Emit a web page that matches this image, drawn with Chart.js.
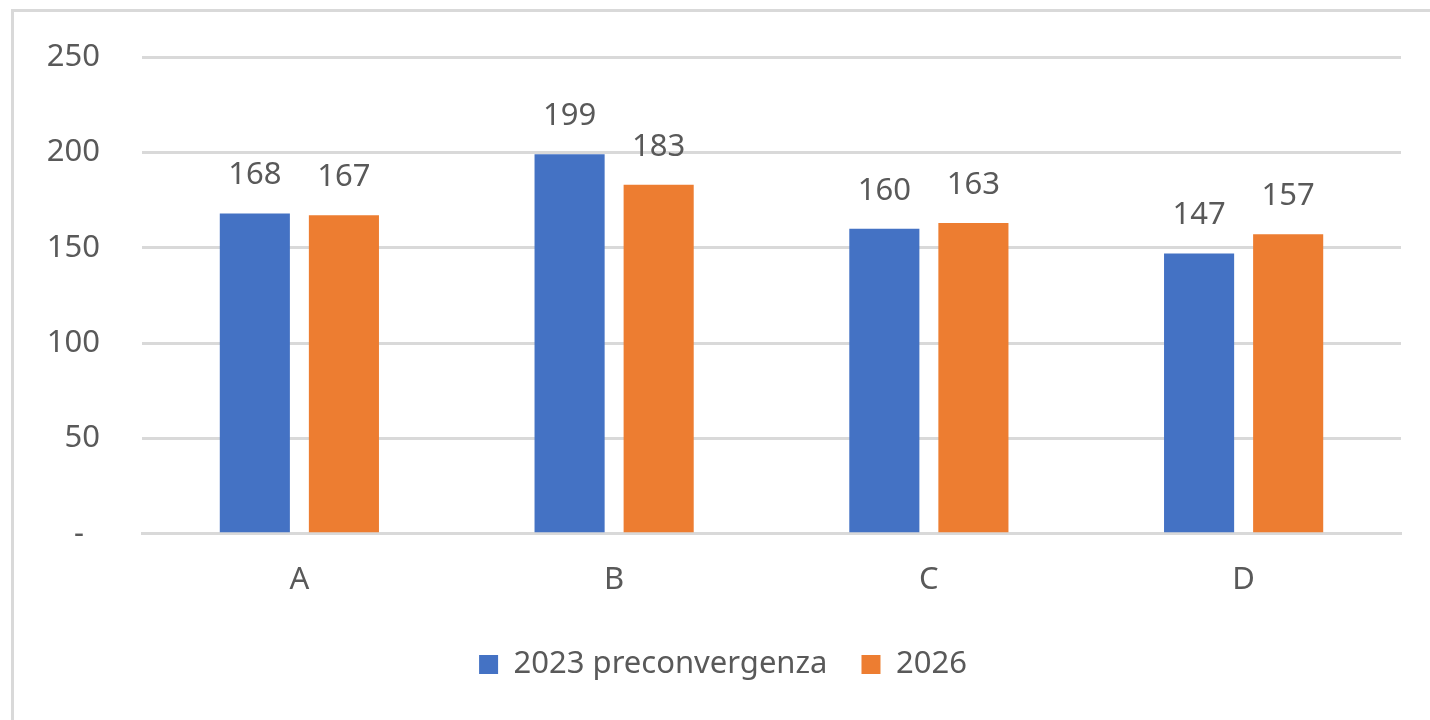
<!DOCTYPE html>
<html>
<head>
<meta charset="utf-8">
<script src="https://cdn.jsdelivr.net/npm/chart.js@4"></script>
<style>
  html, body { margin: 0; padding: 0; background: #fff; overflow: hidden; }
  #frame {
    position: absolute; left: 11px; top: 9px;
    width: 1430px; height: 720px;
    border-left: 3px solid #d9d9d9; border-top: 3px solid #d9d9d9;
  }
  #chartBox { position: absolute; left: 0; top: 0; width: 1430px; height: 720px; }
</style>
</head>
<body>
<div id="frame"></div>
<div id="chartBox"><canvas id="barChart"></canvas></div>
<script>
const categories = ['A', 'B', 'C', 'D'];
const series2023 = [168, 199, 160, 147];
const series2026 = [167, 183, 163, 157];
const seriesNames = ['2023 preconvergenza', '2026'];
const yTicks = [0, 50, 100, 150, 200, 250];

const textColor = '#595959';
const fontFamily = "'Noto Sans', 'Open Sans', sans-serif";
const fontSize = 31;

// labels above each bar, like the Excel data labels
const barLabels = {
  id: 'barLabels',
  afterDatasetsDraw(chart) {
    const ctx = chart.ctx;
    ctx.save();
    ctx.font = fontSize + 'px ' + fontFamily;
    ctx.fillStyle = textColor;
    ctx.textAlign = 'center';
    ctx.textBaseline = 'alphabetic';
    chart.data.datasets.forEach((ds, i) => {
      chart.getDatasetMeta(i).data.forEach((bar, j) => {
        ctx.fillText(ds.data[j], bar.x, bar.y - 29);
      });
    });
    ctx.restore();
  }
};

function createChart() {
  const ctx = document.getElementById('barChart').getContext('2d');
  return new Chart(ctx, {
    type: 'bar',
    data: {
      labels: categories,
      datasets: [{
        label: seriesNames[0],
        data: series2023,
        backgroundColor: '#4472c4',
        categoryPercentage: 0.566,
        barPercentage: 0.787
      }, {
        label: seriesNames[1],
        data: series2026,
        backgroundColor: '#ed7d31',
        categoryPercentage: 0.566,
        barPercentage: 0.787
      }]
    },
    options: {
      responsive: true,
      maintainAspectRatio: false,
      animation: false,
      layout: {
        padding: { left: 45, right: 29, top: 57, bottom: 30 }
      },
      plugins: {
        legend: {
          display: true,
          position: 'bottom',
          labels: {
            boxWidth: 19,
            boxHeight: 19,
            padding: 34,
            color: textColor,
            font: { size: fontSize, family: fontFamily }
          }
        },
        tooltip: { enabled: false }
      },
      scales: {
        x: {
          afterFit: (scale) => { scale.height -= 4; },
          grid: { display: false },
          border: { color: '#d9d9d9', width: 3 },
          ticks: {
            color: textColor,
            padding: 20,
            font: { size: fontSize, family: fontFamily }
          }
        },
        y: {
          min: 0,
          max: 250,
          afterFit: (scale) => {
            scale.width = 97;
            scale.paddingTop = 0;
            scale.paddingBottom = 0;
          },
          afterBuildTicks: (scale) => { scale.ticks = yTicks.map(v => ({ value: v })); },
          border: { display: false },
          grid: { color: '#d9d9d9', lineWidth: 3, drawTicks: false },
          ticks: {
            color: textColor,
            padding: 42,
            font: { size: fontSize, family: fontFamily },
            callback: (val) => val === 0 ? '-  ' : val
          }
        }
      }
    },
    plugins: [barLabels]
  });
}

document.addEventListener('DOMContentLoaded', () => {
  createChart();
});
</script>
</body>
</html>
